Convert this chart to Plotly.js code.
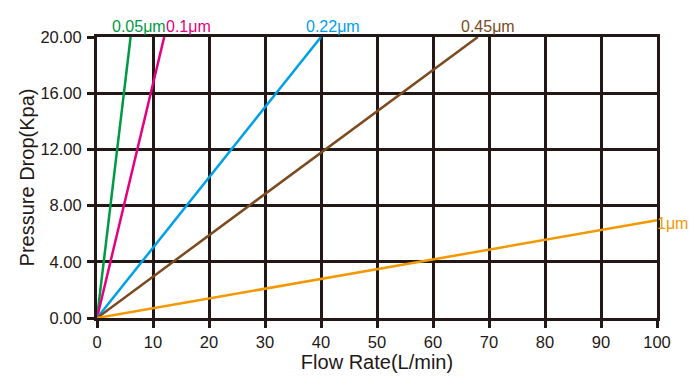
<!DOCTYPE html>
<html>
<head>
<meta charset="utf-8">
<script src="https://cdn.plot.ly/plotly-3.0.1.min.js"></script>
<style>html,body{margin:0;padding:0;background:#fff;}#chart{width:700px;height:388px;}</style>
</head>
<body>
<div id="chart"></div>
<script>
// Data
const seriesNames = ["0.05μm", "0.1μm", "0.22μm", "0.45μm", "1μm"];
const flow005 = [0, 6];
const drop005 = [0, 20];
const flow01 = [0, 12];
const drop01 = [0, 20];
const flow022 = [0, 40];
const drop022 = [0, 20];
const flow045 = [0, 68];
const drop045 = [0, 20];
const flow1 = [0, 100];
const drop1 = [0, 6.95];
const xTicks = [0, 10, 20, 30, 40, 50, 60, 70, 80, 90, 100];
const yTicks = [0, 4, 8, 12, 16, 20];
const yTickText = ["0.00", "4.00", "8.00", "12.00", "16.00", "20.00"];

const colors = ["#009a44", "#e4007f", "#00a0e9", "#7b4a1f", "#f39800"];
const flows = [flow005, flow01, flow022, flow045, flow1];
const drops = [drop005, drop01, drop022, drop045, drop1];

const traces = seriesNames.map((n, i) => ({
  x: flows[i], y: drops[i], name: n, type: "scatter", mode: "lines",
  line: {color: colors[i], width: 2.5}, hoverinfo: "skip"
}));

const labelOffsets = [
  {xshift: -21, yshift: 0, xanchor: "left", yanchor: "bottom"},
  {xshift: 0, yshift: 0, xanchor: "left", yanchor: "bottom"},
  {xshift: -17, yshift: 0, xanchor: "left", yanchor: "bottom"},
  {xshift: -19, yshift: 0, xanchor: "left", yanchor: "bottom"},
  {xshift: -2, yshift: -3, xanchor: "left", yanchor: "middle"}
];
const annotations = seriesNames.map((n, i) => Object.assign({
  x: flows[i][flows[i].length - 1], y: drops[i][drops[i].length - 1],
  xref: "x", yref: "y", text: n, showarrow: false,
  font: {family: "Liberation Sans, Arial, sans-serif", size: 16, color: colors[i]}
}, labelOffsets[i]));

const gridColor = "#231815";
const layout = {
  width: 700, height: 388,
  margin: {l: 97, r: 43, t: 37, b: 70},
  paper_bgcolor: "#fff", plot_bgcolor: "#fff",
  showlegend: false,
  font: {family: "Liberation Sans, Arial, sans-serif", color: "#231815"},
  xaxis: {
    range: [0, 100], tickvals: xTicks, ticktext: xTicks.map(String),
    showgrid: true, gridcolor: gridColor, gridwidth: 3,
    showline: true, linecolor: gridColor, linewidth: 3, mirror: true,
    zeroline: false, ticks: "outside", ticklen: 7, tickwidth: 3, tickcolor: gridColor,
    tickfont: {size: 16.5, color: "#231815"},
    title: {text: "Flow Rate(L/min)", font: {size: 20, color: "#231815"}, standoff: 2},
    fixedrange: true
  },
  yaxis: {
    range: [0, 20], tickvals: yTicks, ticktext: yTickText,
    showgrid: true, gridcolor: gridColor, gridwidth: 3,
    showline: true, linecolor: gridColor, linewidth: 3, mirror: true,
    zeroline: false, ticks: "outside", ticklen: 7, tickwidth: 3, tickcolor: gridColor,
    tickfont: {size: 16.5, color: "#231815"}, ticklabelstandoff: 2,
    title: {text: "Pressure Drop(Kpa)", font: {size: 20, color: "#231815"}, standoff: 1},
    fixedrange: true
  },
  annotations: annotations
};

Plotly.newPlot("chart", traces, layout, {displayModeBar: false, staticPlot: true});
</script>
</body>
</html>
